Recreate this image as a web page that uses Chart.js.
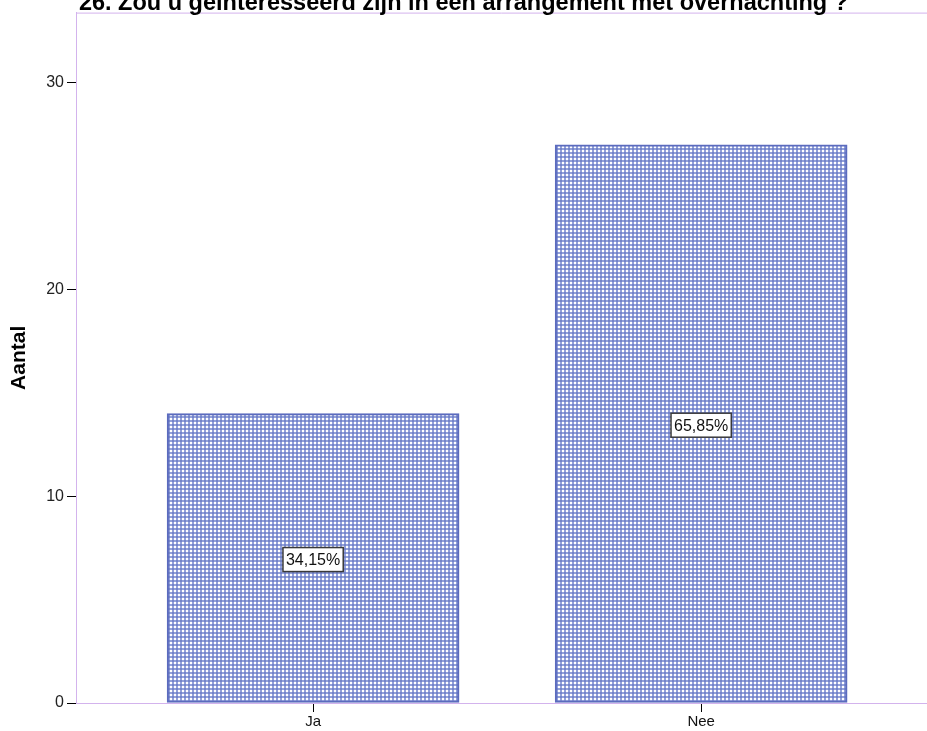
<!DOCTYPE html>
<html>
<head>
<meta charset="utf-8">
<script src="https://cdn.jsdelivr.net/npm/chart.js@4.4.1/dist/chart.umd.min.js"></script>
<style>
  html, body { margin: 0; padding: 0; background: #fff; overflow: hidden; }
  canvas { display: block; }
</style>
</head>
<body>
<canvas id="chart" width="927" height="731"></canvas>
<script>
const chartTitle = '26. Zou u geïnteresseerd zijn in een arrangement met overnachting ?';
const categories = ['Ja', 'Nee'];
const counts = [14, 27];
const percentLabels = ['34,15%', '65,85%'];

const FONT = '"Liberation Sans", Arial, sans-serif';
const AXIS_COLOR = '#d3b3ed';

// gingham fill like the SPSS bar pattern
function makePattern() {
  const tile = document.createElement('canvas');
  tile.width = 4;
  tile.height = 4;
  const c = tile.getContext('2d');
  c.fillStyle = '#ffffff';
  c.fillRect(0, 0, 4, 4);
  c.fillStyle = '#93a1da';
  c.fillRect(0, 0, 4, 2);
  c.fillRect(0, 0, 2, 4);
  c.fillStyle = '#7384ca';
  c.fillRect(0, 0, 2, 2);
  return c.createPattern(tile, 'repeat');
}

const frameAndTitle = {
  id: 'frameAndTitle',
  beforeDatasetsDraw(chart) {
    const { ctx, chartArea } = chart;
    ctx.save();
    ctx.strokeStyle = AXIS_COLOR;
    ctx.lineWidth = 1;
    ctx.beginPath();
    ctx.moveTo(chartArea.left, chartArea.top + 0.5);
    ctx.lineTo(chartArea.right, chartArea.top + 0.5);
    ctx.stroke();
    ctx.restore();
  },
  afterDraw(chart) {
    const ctx = chart.ctx;
    ctx.save();
    ctx.font = 'bold 23.5px ' + FONT;
    ctx.fillStyle = '#000';
    ctx.textAlign = 'center';
    ctx.textBaseline = 'alphabetic';
    ctx.fillText(chartTitle, chart.width / 2, 9.5);
    ctx.restore();
  }
};

const boxLabels = {
  id: 'boxLabels',
  afterDatasetsDraw(chart) {
    const ctx = chart.ctx;
    const meta = chart.getDatasetMeta(0);
    ctx.save();
    ctx.font = '16px ' + FONT;
    ctx.textAlign = 'center';
    ctx.textBaseline = 'middle';
    meta.data.forEach((bar, i) => {
      const text = percentLabels[i];
      const cx = bar.x;
      const cy = (bar.y + bar.base) / 2 + 1.5;
      const w = ctx.measureText(text).width + 6;
      const h = 24;
      ctx.fillStyle = '#fff';
      ctx.fillRect(cx - w / 2, cy - h / 2, w, h);
      ctx.strokeStyle = '#3a3a3a';
      ctx.lineWidth = 1.5;
      ctx.strokeRect(cx - w / 2, cy - h / 2, w, h);
      ctx.fillStyle = '#111';
      ctx.fillText(text, cx, cy + 1);
    });
    ctx.restore();
  }
};

const ctx = document.getElementById('chart').getContext('2d');

new Chart(ctx, {
  type: 'bar',
  data: {
    datasets: [{
      data: counts.map((v, i) => ({ x: i, y: v })),
      backgroundColor: makePattern(),
      borderColor: '#5b6bbe',
      borderWidth: 2,
      borderSkipped: false,
      barThickness: 292
    }]
  },
  options: {
    responsive: false,
    animation: false,
    layout: { padding: { top: 12, left: 0, right: 0, bottom: 0 } },
    plugins: {
      legend: { display: false },
      tooltip: { enabled: false }
    },
    scales: {
      x: {
        type: 'linear',
        offset: false,
        min: -0.611,
        max: 1.582,
        afterFit: (s) => { s.height = 28; },
        border: { color: AXIS_COLOR, width: 1 },
        grid: { offset: false, drawOnChartArea: false, tickLength: 9, tickColor: '#000', tickWidth: 1 },
        ticks: {
          stepSize: 1,
          includeBounds: false,
          autoSkip: false,
          maxRotation: 0,
          padding: 1,
          color: '#111',
          font: { family: FONT, size: 15 },
          callback: (v) => categories[v] ?? ''
        }
      },
      y: {
        min: 0,
        max: 33.4,
        afterFit: (s) => { s.width = 76; },
        border: { color: AXIS_COLOR, width: 1 },
        grid: { drawOnChartArea: false, tickLength: 9, tickColor: '#000', tickWidth: 1 },
        ticks: {
          stepSize: 10,
          includeBounds: false,
          padding: 3,
          color: '#222',
          font: { family: FONT, size: 16 }
        },
        title: {
          display: true,
          text: 'Aantal',
          color: '#000',
          font: { family: FONT, size: 21, weight: 'bold' },
          padding: { top: 7, bottom: 0 }
        }
      }
    }
  },
  plugins: [frameAndTitle, boxLabels]
});
</script>
</body>
</html>
